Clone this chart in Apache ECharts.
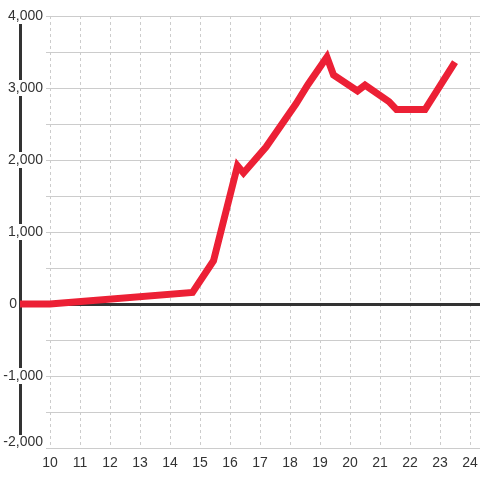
<!DOCTYPE html>
<html>
<head>
<meta charset="utf-8">
<script src="https://cdn.jsdelivr.net/npm/echarts@6/dist/echarts.min.js"></script>
<style>
  html, body { margin: 0; padding: 0; background: #fff; }
  #chart { width: 480px; height: 480px; }
</style>
</head>
<body>
<div id="chart"></div>
<script>
// values
var hours = [9, 10, 14.75, 15.45, 16.25, 16.45, 17.2, 18.2, 18.6, 19.23, 19.45, 20.25, 20.5, 21.3, 21.55, 22.5, 23.5]
var values = [0, 0, 160, 600, 1920, 1820, 2180, 2780, 3050, 3430, 3180, 2960, 3040, 2810, 2700, 2700, 3360]
var xTicks = [10, 11, 12, 13, 14, 15, 16, 17, 18, 19, 20, 21, 22, 23, 24]
var yTicks = [-2000, -1000, 0, 1000, 2000, 3000, 4000]

var font = 'Liberation Sans, Arial, sans-serif'
var points = hours.map(function (h, i) { return [h, values[i]] })

var chart = echarts.init(document.getElementById('chart'))

chart.setOption({
  animation: false,
  backgroundColor: '#fff',
  grid: [
    { left: 20, right: 0, top: 16, bottom: 32, containLabel: false, outerBoundsMode: 'none' },
    { left: 46, right: 0, top: 16, bottom: 32, containLabel: false, outerBoundsMode: 'none' }
  ],
  xAxis: [{
    type: 'value',
    gridIndex: 0,
    min: 9,
    max: 24.333,
    interval: 1,
    axisLine: { show: false, onZero: false },
    axisTick: { show: false },
    axisLabel: {
      color: '#333',
      fontSize: 14,
      fontFamily: font,
      margin: 8,
      formatter: function (v) {
        return xTicks.indexOf(v) >= 0 ? String(v) : ''
      }
    },
    splitLine: { show: true, lineStyle: { color: '#ccc', type: [3, 3], width: 1 } }
  }, {
    type: 'value',
    gridIndex: 1,
    min: 0,
    max: 1,
    show: false
  }],
  yAxis: [{
    type: 'value',
    gridIndex: 0,
    min: yTicks[0],
    max: yTicks[yTicks.length - 1],
    interval: 1000,
    axisLine: { show: true, lineStyle: { color: '#333', width: 3 } },
    axisTick: { show: false },
    splitLine: { show: false },
    axisLabel: {
      align: 'right',
      margin: -23,
      color: '#333',
      fontSize: 14,
      fontFamily: font,
      formatter: function (v) {
        if (v === 0) return '{z|0}{g| }'
        var s = v.toLocaleString('en-US')
        if (v === yTicks[0]) return '{b|' + s + '}'
        return '{a|' + s + '}'
      },
      rich: {
        a: { color: '#333', fontSize: 14, fontFamily: font, backgroundColor: '#fff', padding: [1, 0, 1, 0] },
        b: { color: '#333', fontSize: 14, fontFamily: font, backgroundColor: '#fff', padding: [0, 0, 12, 0] },
        z: { color: '#333', fontSize: 14, fontFamily: font },
        g: { fontSize: 14, width: 26 }
      }
    }
  }, {
    type: 'value',
    gridIndex: 1,
    min: yTicks[0],
    max: yTicks[yTicks.length - 1],
    interval: 500,
    axisLine: { show: false },
    axisTick: { show: false },
    axisLabel: { show: false },
    splitLine: { show: true, lineStyle: { color: '#ccc', width: 1 } }
  }],
  series: [{
    type: 'line',
    xAxisIndex: 0,
    yAxisIndex: 0,
    z: 1,
    data: [],
    markLine: {
      silent: true,
      symbol: 'none',
      label: { show: false },
      lineStyle: { color: '#333', width: 3, type: 'solid' },
      data: [{ yAxis: 0 }]
    }
  }, {
    type: 'line',
    xAxisIndex: 0,
    yAxisIndex: 0,
    z: 10,
    data: points,
    showSymbol: false,
    symbol: 'none',
    lineStyle: { color: '#ec2035', width: 7, join: 'miter' }
  }]
})
</script>
</body>
</html>
